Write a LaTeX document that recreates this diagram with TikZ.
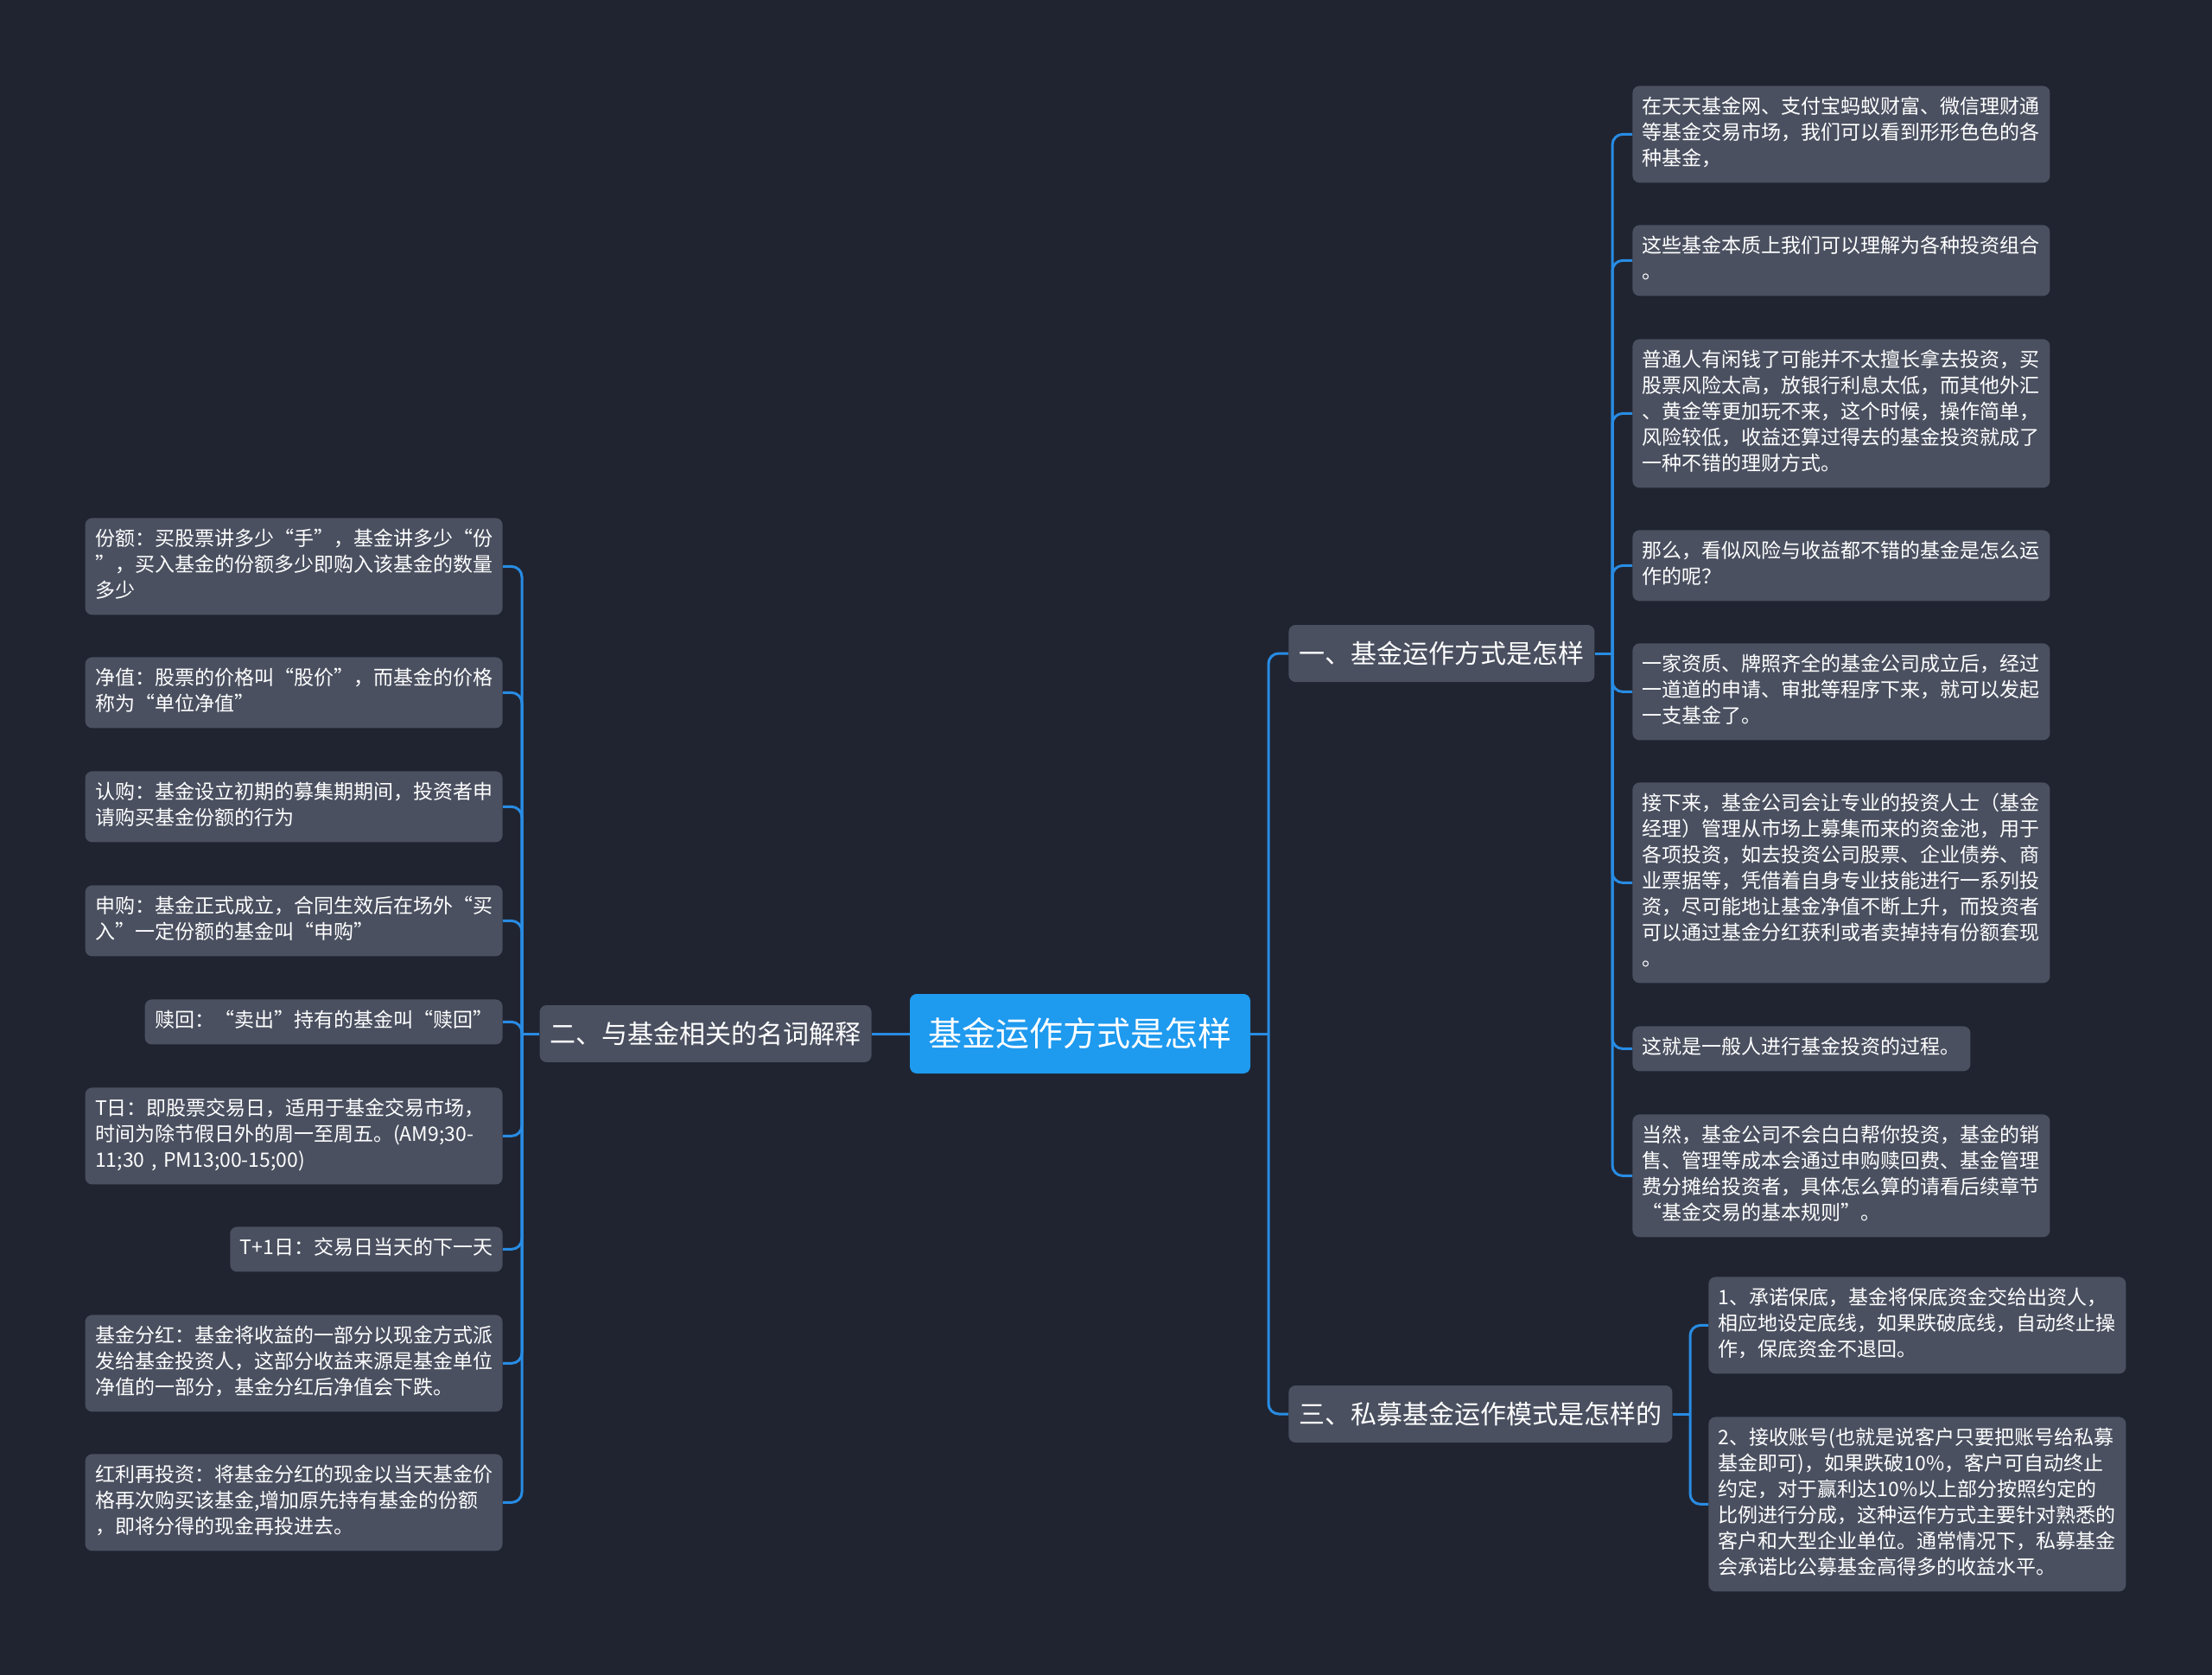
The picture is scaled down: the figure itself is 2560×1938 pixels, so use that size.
\documentclass[tikz,border=0pt]{standalone}
\usepackage{fontspec}
\setmainfont{Noto Sans CJK SC}
\usepackage{tikz}
\usetikzlibrary{calc}

\definecolor{bgcol}{RGB}{32,36,48}
\definecolor{boxcol}{RGB}{74,80,96}
\definecolor{rootcol}{RGB}{30,154,239}
\definecolor{linkcol}{RGB}{40,140,228}

\begin{document}
\begin{tikzpicture}[
    x=0.5pt, y=-0.5pt,
    root/.style={rectangle, rounded corners=4pt, fill=rootcol, text=white, font=\fontsize{19.5}{24}\selectfont, minimum width=197pt, minimum height=46pt, inner sep=0pt},
    topic/.style={rectangle, rounded corners=4pt, fill=boxcol, text=white, font=\fontsize{15}{18}\selectfont, minimum height=33pt, inner xsep=6pt, inner ysep=0pt},
    leaf/.style={rectangle, rounded corners=4pt, fill=boxcol, text=white, font=\fontsize{11.5}{15}\selectfont, align=left, inner xsep=5.75pt, inner ysep=5.5pt, execute at begin node=\strut, execute at end node=\strut},
    wide/.style={leaf, text width=230pt},
    link/.style={draw=linkcol, line width=1.5pt},
    elbow/.style={link, rounded corners=6pt}
]

% Background
\fill[bgcol] (0,0) rectangle (2560,1938);

% Root and topics
\node[root] (root) at (1250,1196) {基金运作方式是怎样};
\node[topic, anchor=west] (t1) at (1491,756) {一、基金运作方式是怎样};
\node[topic, anchor=east] (t2) at (1009,1196) {二、与基金相关的名词解释};
\node[topic, anchor=west] (t3) at (1491,1636) {三、私募基金运作模式是怎样的};

% Topic one
\node[wide, anchor=north west] (a1) at (1889,99) {在天天基金网、支付宝蚂蚁财富、微信理财通\\等基金交易市场，我们可以看到形形色色的各\\种基金，};
\node[wide, anchor=north west] (a2) at (1889,260) {这些基金本质上我们可以理解为各种投资组合\\。};
\node[wide, anchor=north west] (a3) at (1889,392) {普通人有闲钱了可能并不太擅长拿去投资，买\\股票风险太高，放银行利息太低，而其他外汇\\、黄金等更加玩不来，这个时候，操作简单，\\风险较低，收益还算过得去的基金投资就成了\\一种不错的理财方式。};
\node[wide, anchor=north west] (a4) at (1889,613) {那么，看似风险与收益都不错的基金是怎么运\\作的呢？};
\node[wide, anchor=north west] (a5) at (1889,744) {一家资质、牌照齐全的基金公司成立后，经过\\一道道的申请、审批等程序下来，就可以发起\\一支基金了。};
\node[wide, anchor=north west] (a6) at (1889,905) {接下来，基金公司会让专业的投资人士（基金\\经理）管理从市场上募集而来的资金池，用于\\各项投资，如去投资公司股票、企业债券、商\\业票据等，凭借着自身专业技能进行一系列投\\资，尽可能地让基金净值不断上升，而投资者\\可以通过基金分红获利或者卖掉持有份额套现\\。};
\node[leaf, anchor=north west] (a7) at (1889,1187) {这就是一般人进行基金投资的过程。};
\node[wide, anchor=north west] (a8) at (1889,1289) {当然，基金公司不会白白帮你投资，基金的销\\售、管理等成本会通过申购赎回费、基金管理\\费分摊给投资者，具体怎么算的请看后续章节\\“基金交易的基本规则”。};

% Topic two
\node[wide, anchor=north east] (b1) at (582,599) {份额：买股票讲多少“手”，基金讲多少“份\\”，买入基金的份额多少即购入该基金的数量\\多少};
\node[wide, anchor=north east] (b2) at (582,760) {净值：股票的价格叫“股价”，而基金的价格\\称为“单位净值”};
\node[wide, anchor=north east] (b3) at (582,892) {认购：基金设立初期的募集期期间，投资者申\\请购买基金份额的行为};
\node[wide, anchor=north east] (b4) at (582,1024) {申购：基金正式成立，合同生效后在场外“买\\入”一定份额的基金叫“申购”};
\node[leaf, anchor=north east] (b5) at (582,1156) {赎回：“卖出”持有的基金叫“赎回”};
\node[wide, anchor=north east] (b6) at (582,1258) {T日：即股票交易日，适用于基金交易市场，\\时间为除节假日外的周一至周五。(AM9;30-\\11;30 , PM13;00-15;00)};
\node[leaf, anchor=north east] (b7) at (582,1419) {T+1日：交易日当天的下一天};
\node[wide, anchor=north east] (b8) at (582,1521) {基金分红：基金将收益的一部分以现金方式派\\发给基金投资人，这部分收益来源是基金单位\\净值的一部分，基金分红后净值会下跌。};
\node[wide, anchor=north east] (b9) at (582,1682) {红利再投资：将基金分红的现金以当天基金价\\格再次购买该基金,增加原先持有基金的份额\\，即将分得的现金再投进去。};

% Topic three
\node[wide, anchor=north west] (c1) at (1977,1477) {1、承诺保底，基金将保底资金交给出资人，\\相应地设定底线，如果跌破底线，自动终止操\\作，保底资金不退回。};
\node[wide, anchor=north west] (c2) at (1977,1639) {2、接收账号(也就是说客户只要把账号给私募\\基金即可)，如果跌破10\%，客户可自动终止\\约定，对于赢利达10\%以上部分按照约定的\\比例进行分成，这种运作方式主要针对熟悉的\\客户和大型企业单位。通常情况下，私募基金\\会承诺比公募基金高得多的收益水平。};

% Junctions
\coordinate (s0) at (1468,1196);
\coordinate (s1) at (1866,756);
\coordinate (s2) at (604,1196);
\coordinate (s3) at (1956,1636);

% Links from root
\draw[link] (root.west) -- (t2.east);
\draw[link] (root.east) -- (s0);
\draw[elbow] (s0) |- (t1.west);
\draw[elbow] (s0) |- (t3.west);

% Links of topic one
\draw[link] (t1.east) -- (s1);
\draw[elbow] (s1) |- (a1.west);
\draw[elbow] (s1) |- (a2.west);
\draw[elbow] (s1) |- (a3.west);
\draw[elbow] (s1) |- (a4.west);
\draw[elbow] (s1) |- (a5.west);
\draw[elbow] (s1) |- (a6.west);
\draw[elbow] (s1) |- (a7.west);
\draw[elbow] (s1) |- (a8.west);

% Links of topic two
\draw[link] (t2.west) -- (s2);
\draw[elbow] (s2) |- (b1.east);
\draw[elbow] (s2) |- (b2.east);
\draw[elbow] (s2) |- (b3.east);
\draw[elbow] (s2) |- (b4.east);
\draw[elbow] (s2) |- (b5.east);
\draw[elbow] (s2) |- (b6.east);
\draw[elbow] (s2) |- (b7.east);
\draw[elbow] (s2) |- (b8.east);
\draw[elbow] (s2) |- (b9.east);

% Links of topic three
\draw[link] (t3.east) -- (s3);
\draw[elbow] (s3) |- (c1.west);
\draw[elbow] (s3) |- (c2.west);

\end{tikzpicture}
\end{document}
